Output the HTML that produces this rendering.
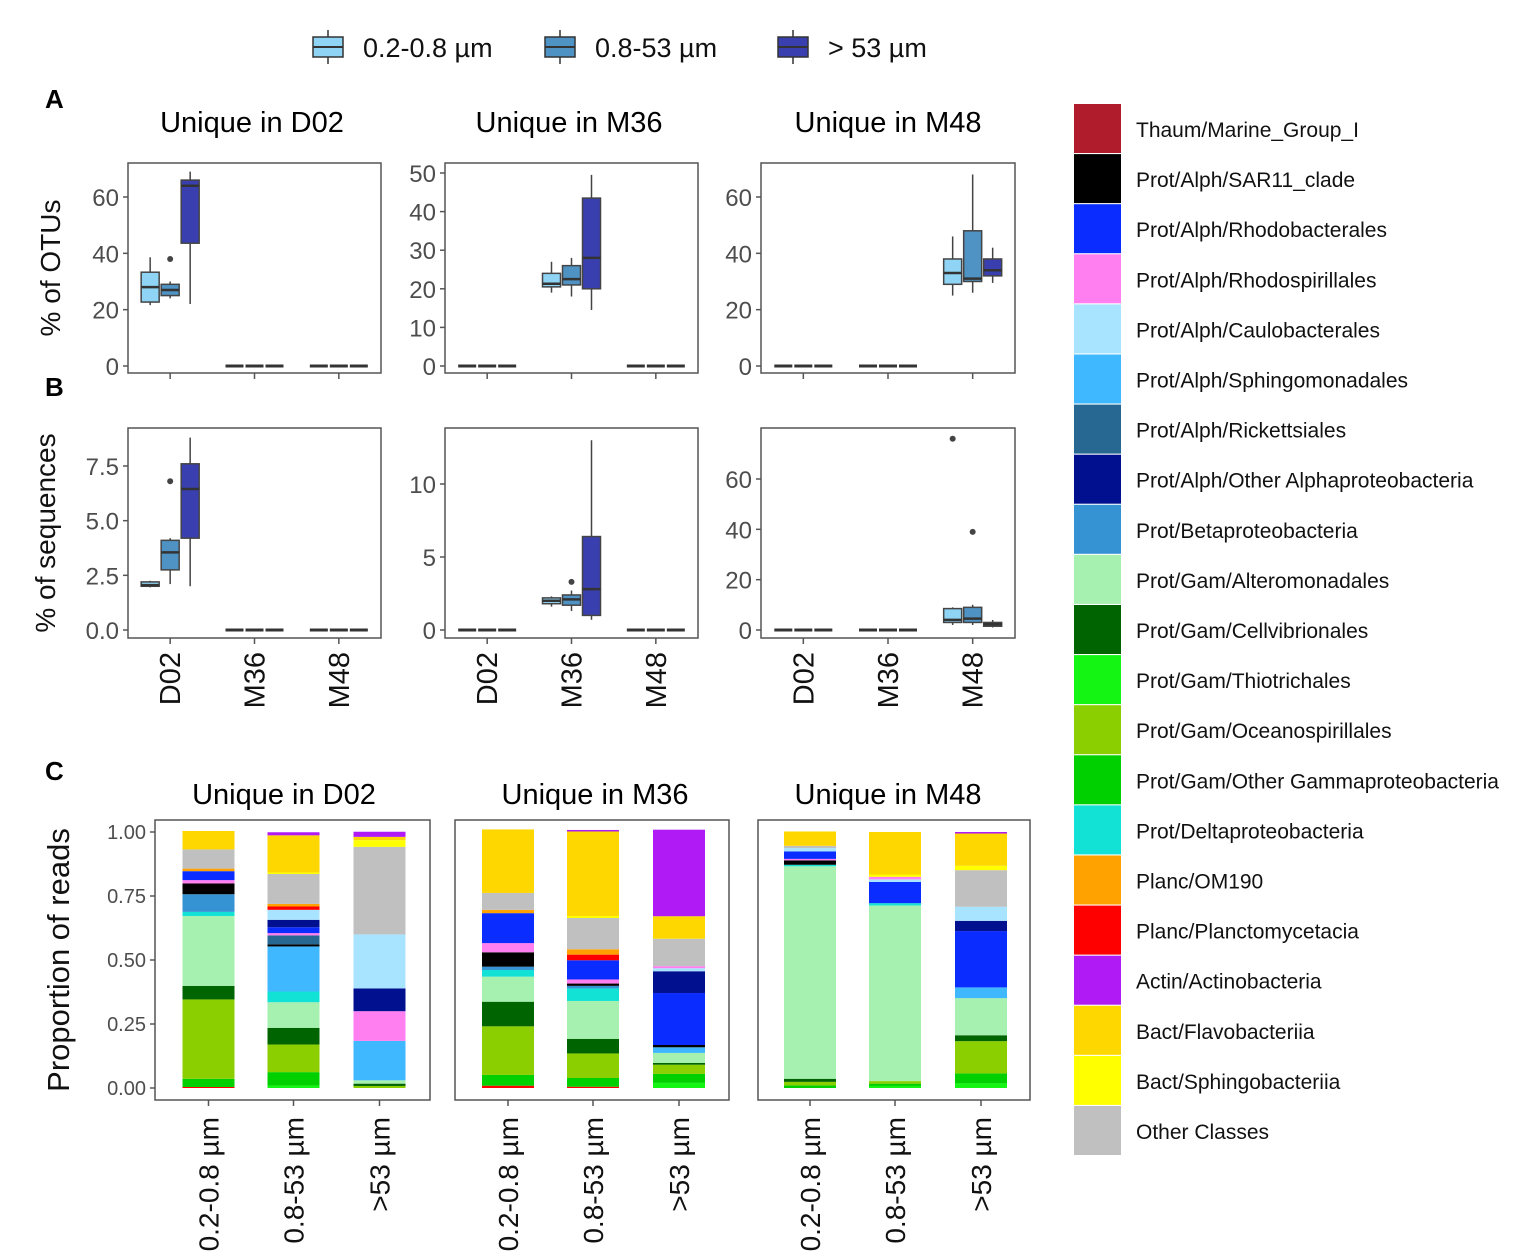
<!DOCTYPE html>
<html><head><meta charset="utf-8"><style>
body{margin:0;background:#fff;width:1535px;height:1260px;overflow:hidden}
svg{display:block;font-family:"Liberation Sans",sans-serif}
</style></head><body>
<svg id="fig" width="1535" height="1260" viewBox="0 0 1535 1260"></svg>
<script>
const NS="http://www.w3.org/2000/svg";
const svg=document.getElementById('fig');
// ---------- data ----------
const sites=["D02","M36","M48"];
const sizeFractions=["0.2-0.8 µm","0.8-53 µm","> 53 µm"];
const sizeTick=["0.2-0.8 µm","0.8-53 µm",">53 µm"];
const boxColors=["#8fd4f5","#4f93c4","#3a3fb0"];
// box stats: [lowWhisker, q1, median, q3, highWhisker, outlier|null]
const otuD02=[[21.6,22.7,28,33.3,38.6,null],[24,25,27,29,30,38],[22,43.6,64,66,69,null]];
const otuM36=[[19,20.5,21.3,24,27,null],[18,21,22.5,26,28,null],[14.5,20,28,43.5,49.5,null]];
const otuM48=[[25,29,33,38,46,null],[26,30,31,48,68,null],[29.5,32,34,38,42,null]];
const seqD02=[[1.95,2.0,2.05,2.2,2.25,null],[2.1,2.75,3.55,4.1,4.2,6.8],[2.0,4.2,6.45,7.6,8.8,null]];
const seqM36=[[1.6,1.8,2.0,2.2,2.3,null],[1.3,1.7,2.1,2.4,2.7,3.3],[0.7,1.0,2.8,6.4,13.0,null]];
const seqM48=[[2,3,4,8.5,9,76],[2,3,4.5,9,10,39],[1,1.5,2.3,3,4,null]];
const otuTicks=[["0","20","40","60"],["0","10","20","30","40","50"],["0","20","40","60"]];
const seqTicks=[["0.0","2.5","5.0","7.5"],["0","5","10"],["0","20","40","60"]];
const taxa=["Thaum/Marine_Group_I","Prot/Alph/SAR11_clade","Prot/Alph/Rhodobacterales","Prot/Alph/Rhodospirillales","Prot/Alph/Caulobacterales","Prot/Alph/Sphingomonadales","Prot/Alph/Rickettsiales","Prot/Alph/Other Alphaproteobacteria","Prot/Betaproteobacteria","Prot/Gam/Alteromonadales","Prot/Gam/Cellvibrionales","Prot/Gam/Thiotrichales","Prot/Gam/Oceanospirillales","Prot/Gam/Other Gammaproteobacteria","Prot/Deltaproteobacteria","Planc/OM190","Planc/Planctomycetacia","Actin/Actinobacteria","Bact/Flavobacteriia","Bact/Sphingobacteriia","Other Classes"];
const taxaColors=["#b01c2b","#000000","#0a2cff","#ff7ff0","#a8e4ff","#40b8ff","#266891","#00108e","#3592d3","#a6f0b0","#006400","#14f514","#8ccf00","#00d000","#12e2d6","#ffa200","#ff0000","#b01af5","#ffd700","#ffff00","#c0c0c0"];
// stacked bars: [taxonIndex, proportion] bottom to top
const D02_small=[[16,.004],[13,.032],[12,.31],[10,.053],[9,.273],[14,.016],[8,.069],[1,.042],[3,.013],[2,.035],[15,.01],[20,.075],[18,.072]];
const D02_mid=[[11,.01],[13,.052],[12,.108],[10,.065],[9,.1],[14,.042],[5,.176],[1,.008],[6,.035],[3,.009],[2,.023],[7,.029],[4,.039],[16,.013],[15,.01],[20,.117],[19,.006],[18,.145],[17,.012]];
const D02_large=[[12,.008],[10,.009],[9,.013],[5,.154],[3,.116],[7,.089],[4,.211],[20,.342],[19,.026],[18,.013],[17,.02]];
const M36_small=[[16,.009],[13,.042],[12,.19],[10,.096],[9,.098],[14,.026],[8,.013],[1,.056],[3,.036],[2,.117],[15,.013],[20,.066],[18,.248]];
const M36_mid=[[16,.005],[13,.034],[12,.096],[10,.057],[9,.148],[14,.049],[8,.01],[1,.009],[3,.016],[2,.075],[16,.022],[15,.021],[20,.122],[19,.008],[18,.33],[17,.006]];
const M36_large=[[11,.02],[13,.035],[12,.036],[10,.007],[9,.039],[5,.022],[1,.009],[2,.203],[7,.085],[4,.012],[3,.008],[20,.107],[18,.088],[17,.338]];
const M48_small=[[13,.01],[12,.014],[10,.012],[9,.83],[14,.006],[1,.017],[3,.006],[2,.029],[4,.013],[20,.009],[18,.056]];
const M48_mid=[[11,.008],[13,.009],[12,.01],[9,.686],[14,.009],[2,.083],[4,.01],[3,.01],[19,.009],[18,.166]];
const M48_large=[[11,.018],[13,.039],[12,.126],[10,.023],[9,.145],[5,.042],[2,.22],[7,.04],[4,.055],[20,.143],[19,.017],[18,.126],[17,.006]];
const propTicks=["0.00","0.25","0.50","0.75","1.00"];
// ---------- helpers ----------
function el(tag,attrs,parent){const e=document.createElementNS(NS,tag);for(const k in attrs)e.setAttribute(k,attrs[k]);(parent||svg).appendChild(e);return e;}
function txt(s,attrs,parent){const e=el('text',attrs,parent);e.textContent=s;return e;}
// top legend
const legX=[313,545,778];
sizeFractions.forEach((s,i)=>{
  const g=el('g',{});
  
  
  el('line',{x1:legX[i]+15,x2:legX[i]+15,y1:30,y2:64,stroke:'#333','stroke-width':1.5},g);
  el('rect',{x:legX[i],y:37,width:30,height:20,fill:boxColors[i],stroke:'#333','stroke-width':1.5},g);
  el('line',{x1:legX[i],x2:legX[i]+30,y1:47,y2:47,stroke:'#333','stroke-width':2},g);
  txt(s,{x:legX[i]+50,y:57,'font-size':27,fill:'#111'},g);
});
// panel labels
[['A',108],['B',396],['C',780]].forEach(([l,y])=>{
  const t=txt(l,{x:45,y:y,'font-size':26,'font-weight':'bold',fill:'#000'});
  
  
});
// titles
const titleCX=[[252,569,888],[284,595,888]];
sites.forEach((s,i)=>{
  const t=txt('Unique in '+s,{x:titleCX[0][i],y:132,'font-size':29,'text-anchor':'middle',fill:'#000'});
  
  
  const t2=txt('Unique in '+s,{x:titleCX[1][i],y:804,'font-size':29,'text-anchor':'middle',fill:'#000'});
  
  
});
// axis titles
function ytitle(s,x,y,fs,name){const t=txt(s,{x:0,y:0,'font-size':fs,'text-anchor':'middle',fill:'#111',transform:`translate(${x},${y}) rotate(-90)`});}
ytitle('% of OTUs',60,268,28,'y-axis-title-otus');
ytitle('% of sequences',55,533,28,'y-axis-title-sequences');
ytitle('Proportion of reads',69,960,31,'y-axis-title-proportion');
// box panels
const panelX=[[128,381],[445,698],[761,1015]];
const otuTopY=[197,173,197];
const seqTopY=[466,484,479];
function boxPanel(pi,top,bottom,zeroY,ticks,topY,data,key,showX){
  const [x0,x1]=panelX[pi];
  const g=el('g',{});
  
  
  el('rect',{x:x0,y:top,width:x1-x0,height:bottom-top,fill:'#fff',stroke:'#555','stroke-width':1.5},g);
  const topVal=parseFloat(ticks[ticks.length-1]);
  const yS=v=>zeroY-(zeroY-topY)*v/topVal;
  ticks.forEach(t=>{
    const v=parseFloat(t);const y=yS(v);
    el('line',{x1:x0-5,x2:x0,y1:y,y2:y,stroke:'#555','stroke-width':1.5},g);
    const tl=txt(String(t),{x:x0-9,y:y+9,'font-size':24,'text-anchor':'end',fill:'#4d4d4d'},g);
    
    
  });
  const w=x1-x0;
  sites.forEach((s,ci)=>{
    const cx=x0+w*(ci+0.5)/3;
    el('line',{x1:cx,x2:cx,y1:bottom,y2:bottom+6,stroke:'#555','stroke-width':1.5},g);
    if(showX){
      const tl=txt(s,{x:0,y:0,'font-size':29,'text-anchor':'end',fill:'#111',transform:`translate(${cx+10},${bottom+14}) rotate(-90)`},g);
      
      
    }
    [-20,0,20].forEach((off,bi)=>{
      const bx=cx+off-9;
      if(ci!==pi){
        el('line',{x1:bx,x2:bx+18,y1:zeroY,y2:zeroY,stroke:'#333','stroke-width':3},g);return;
      }
      const d=data[bi];
      const b=el('g',{},g);
      
      
      el('line',{x1:bx+9,x2:bx+9,y1:yS(d[0]),y2:yS(d[4]),stroke:'#444','stroke-width':1.5},b);
      el('rect',{x:bx,y:yS(d[3]),width:18,height:yS(d[1])-yS(d[3]),fill:boxColors[bi],stroke:'#444','stroke-width':1.5},b);
      el('line',{x1:bx,x2:bx+18,y1:yS(d[2]),y2:yS(d[2]),stroke:'#333','stroke-width':2.5},b);
      if(d[5]!==null)el('circle',{cx:bx+9,cy:yS(d[5]),r:3,fill:'#444'},b);
    });
  });
}
const otuData=[otuD02,otuM36,otuM48];
const seqData=[seqD02,seqM36,seqM48];
for(let i=0;i<3;i++){
  boxPanel(i,163,373,366,otuTicks[i],otuTopY[i],otuData[i],'otus',false);
  boxPanel(i,428,638,630,seqTicks[i],seqTopY[i],seqData[i],'sequences',true);
}
// stacked bar panels
const cPanels=[[155,430],[455,729],[758,1030]];
const barOffsets=[-84,1,87];
const barData=[[D02_small,D02_mid,D02_large],[M36_small,M36_mid,M36_large],[M48_small,M48_mid,M48_large]];
const c0=1088,c1=832;
const yP=v=>c0-(c0-c1)*v;
cPanels.forEach(([x0,x1],pi)=>{
  const g=el('g',{});
  
  
  el('rect',{x:x0,y:820,width:x1-x0,height:280,fill:'#fff',stroke:'#555','stroke-width':1.5},g);
  if(pi===0)propTicks.forEach(t=>{
    const y=yP(parseFloat(t));
    el('line',{x1:x0-5,x2:x0,y1:y,y2:y,stroke:'#555','stroke-width':1.5},g);
    const tl=txt(t,{x:x0-9,y:y+7,'font-size':20,'text-anchor':'end',fill:'#4d4d4d'},g);
    
    
  });
  const cx0=(x0+x1)/2;
  barData[pi].forEach((segs,bi)=>{
    const cx=cx0+barOffsets[bi];
    el('line',{x1:cx,x2:cx,y1:1100,y2:1106,stroke:'#555','stroke-width':1.5},g);
    const tl=txt(sizeTick[bi],{x:0,y:0,'font-size':28,'text-anchor':'end',fill:'#111',transform:`translate(${cx+10},${1117}) rotate(-90)`},g);
    
    
    let cum=0;
    segs.forEach(([ti,v])=>{
      const r=el('rect',{x:cx-26,y:yP(cum+v),width:52,height:yP(cum)-yP(cum+v),fill:taxaColors[ti]},g);
      
      
      cum+=v;
    });
  });
});
// right legend
taxa.forEach((t,i)=>{
  const g=el('g',{});
  
  
  const y=104+i*50.1;
  el('rect',{x:1074,y:y,width:47,height:49,fill:taxaColors[i]},g);
  txt(t,{x:1136,y:y+33,'font-size':21,fill:'#111'},g);
});
</script>
</body></html>
